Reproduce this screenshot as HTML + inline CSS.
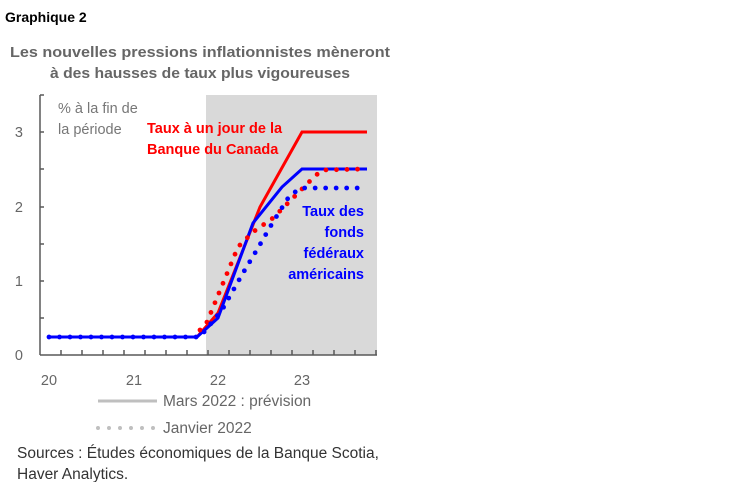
<!DOCTYPE html>
<html><head><meta charset="utf-8"><style>
body{margin:0;background:#fff;}
svg{display:block;font-family:"Liberation Sans",sans-serif;}
</style></head><body>
<svg width="750" height="482" viewBox="0 0 750 482" xmlns="http://www.w3.org/2000/svg">
<rect width="750" height="482" fill="#fff"/>
<text x="5" y="22" font-size="14" font-weight="bold" fill="#000">Graphique 2</text>
<text x="200" y="57" font-size="15" font-weight="bold" fill="#666" text-anchor="middle" textLength="380" lengthAdjust="spacingAndGlyphs">Les nouvelles pressions inflationnistes mèneront</text>
<text x="200" y="78" font-size="15" font-weight="bold" fill="#666" text-anchor="middle" textLength="300" lengthAdjust="spacingAndGlyphs">à des hausses de taux plus vigoureuses</text>
<rect x="206" y="95" width="171" height="260" fill="#d9d9d9"/>
<g stroke="#595959" stroke-width="1.5" fill="none">
<line x1="40" y1="95" x2="40" y2="355"/>
<line x1="40" y1="355" x2="377" y2="355"/>
<line x1="40" y1="132" x2="44" y2="132"/><line x1="40" y1="169" x2="44" y2="169"/>
<line x1="40" y1="207" x2="44" y2="207"/><line x1="40" y1="244" x2="44" y2="244"/>
<line x1="40" y1="281" x2="44" y2="281"/><line x1="40" y1="318" x2="44" y2="318"/>
<line x1="40" y1="95" x2="44" y2="95"/>
<path d="M61 355v-5M82 355v-5M103 355v-5M124 355v-5M145 355v-5M166 355v-5M187 355v-5M208 355v-5M229 355v-5M250 355v-5M271 355v-5M292 355v-5M313 355v-5M334 355v-5M355 355v-5M376 355v-5"/>
</g>
<g font-size="14.5" fill="#666">
<text x="23" y="137" text-anchor="end">3</text>
<text x="23" y="212" text-anchor="end">2</text>
<text x="23" y="286" text-anchor="end">1</text>
<text x="23" y="360" text-anchor="end">0</text>
<text x="49" y="385" text-anchor="middle">20</text>
<text x="134" y="385" text-anchor="middle">21</text>
<text x="218" y="385" text-anchor="middle">22</text>
<text x="302" y="385" text-anchor="middle">23</text>
<text x="58" y="113" fill="#777">% à la fin de</text>
<text x="58" y="134" fill="#777">la période</text>
</g>
<polyline points="49,337 197,337 218,313 260,207 302,132 367,132" fill="none" stroke="#f00" stroke-width="3"/>
<polyline points="49,337 197,337 218,318 253,223 282,187 302,169 367,169" fill="none" stroke="#00f" stroke-width="3"/>
<polyline points="200,330 207,322 238,247 253,232 273,218 293,198 313,178 322,170 367,169" fill="none" stroke="#f00" stroke-width="4.8" stroke-linecap="round" stroke-dasharray="0 10.5"/>
<polyline points="49,337 200,337 222,310 243,273 258,248 273,222 290,195 302,188 367,188" fill="none" stroke="#00f" stroke-width="4.8" stroke-linecap="round" stroke-dasharray="0 10.5"/>
<g font-size="14.5" font-weight="bold">
<text x="147" y="133" fill="#f00">Taux à un jour de la</text>
<text x="147" y="154" fill="#f00">Banque du Canada</text>
<text x="364" y="216" fill="#00f" text-anchor="end">Taux des</text>
<text x="364" y="237" fill="#00f" text-anchor="end">fonds</text>
<text x="364" y="258" fill="#00f" text-anchor="end">fédéraux</text>
<text x="364" y="279" fill="#00f" text-anchor="end">américains</text>
</g>
<line x1="98" y1="401" x2="157" y2="401" stroke="#bfbfbf" stroke-width="3"/>
<line x1="98" y1="428" x2="155" y2="428" stroke="#bfbfbf" stroke-width="4" stroke-linecap="round" stroke-dasharray="0 11"/>
<g font-size="15.5" fill="#666">
<text x="163" y="406">Mars 2022 : prévision</text>
<text x="163" y="433">Janvier 2022</text>
</g>
<g font-size="15.5" fill="#333">
<text x="17" y="458">Sources : Études économiques de la Banque Scotia,</text>
<text x="17" y="479">Haver Analytics.</text>
</g>
</svg>
</body></html>
